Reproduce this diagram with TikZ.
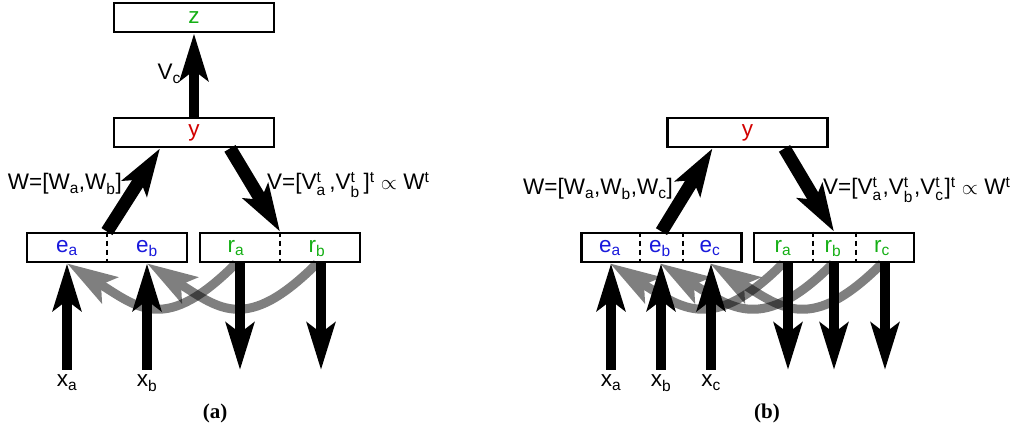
\documentclass[tikz,border=0pt]{standalone}
\usepackage{amsmath}
\usepackage{fontspec}
\setmainfont{Liberation Sans}
\newfontfamily\capfont{Liberation Serif}
\usetikzlibrary{arrows.meta}
\DeclareMathSizes{22.5}{22.5}{15.5}{11}

\definecolor{eblue}{RGB}{25,25,220}
\definecolor{rgreen}{RGB}{20,175,20}
\definecolor{yred}{RGB}{210,0,0}

\begin{document}
\begin{tikzpicture}[x=1pt,y=1pt,
  box/.style={draw, line width=2.8pt, minimum width=160pt, minimum height=29pt,
              inner sep=0pt, fill=white, font=\fontsize{22.5}{26}\selectfont},
  lbl/.style={font=\fontsize{22.5}{26}\selectfont, inner sep=0pt},
  cell/.style={lbl, anchor=base},
  inlbl/.style={lbl, anchor=base, inner ysep=5pt},
  divider/.style={line width=2.6pt, dash pattern=on 5pt off 4pt},
  flow/.style={line width=10.5pt, -{Stealth[length=47pt,width=28pt,inset=10pt]}},
  wflow/.style={line width=13pt, -{Stealth[length=47pt,width=29pt,inset=10pt]}},
  back/.style={line width=9pt, -{Stealth[length=50pt,width=30pt,inset=10pt]}},
  faded/.style={transparency group, opacity=0.5},
  caption/.style={font=\capfont\bfseries\fontsize{21}{24}\selectfont, inner sep=0pt},
]
\useasboundingbox (0,0) rectangle (1020,430);

% ---------------- panel (a) ----------------
\node[box, text=rgreen] (Z1) at (194,412.5) {z};
\node[box, text=yred]   (Y1) at (194,297.5) {y};
\node[box] (E1) at (107,182.5) {};
\node[box] (R1) at (280,182.5) {};
\draw[divider] (E1.north) -- (E1.south);
\draw[divider] (R1.north) -- (R1.south);

\node[cell, text=eblue]  (ea1) at (67,177.5)  {e$_\text{a}$};
\node[cell, text=eblue]  (eb1) at (147,177.5) {e$_\text{b}$};
\node[cell, text=rgreen] (ra1) at (236,177.5) {r$_\text{a}$};
\node[cell, text=rgreen] (rb1) at (317,177.5) {r$_\text{b}$};

\node[inlbl] (xa1) at (67,43)  {x$_\text{a}$};
\node[inlbl] (xb1) at (147,43) {x$_\text{b}$};
\coordinate (oa1) at (240,60);
\coordinate (ob1) at (321,60);

\node[lbl, anchor=base east] (vc1) at (181,350) {V$_\text{c}$};
\node[lbl, anchor=base east] (w1) at (122,240) {W=[W$_\text{a}$,W$_\text{b}$]};
\node[lbl, anchor=base west] (v1) at (267,240)
  {V=[V$^\text{t}_\text{a}$\,,V$^\text{t}_\text{b}$\,]$^\text{t}$ $\propto$ W$^\text{t}$};

% feedback from the reconstructions to the codes
\begin{scope}[faded]
  \draw[back] (ra1 |- R1.south) .. controls +(-135:100) and +(-32:85) .. (ea1 |- E1.south);
\end{scope}
\begin{scope}[faded]
  \draw[back] (rb1 |- R1.south) .. controls +(-135:100) and +(-32:85) .. (eb1 |- E1.south);
\end{scope}

\draw[flow] (Y1.north) -- (Z1.south);
\draw[wflow] (E1.north) -- ([xshift=-34pt]Y1.south);
\draw[wflow] ([xshift=36pt]Y1.south) -- (R1.north);
\draw[flow] (xa1.north) -- (xa1.north |- E1.south);
\draw[flow] (xb1.north) -- (xb1.north |- E1.south);
\draw[flow] (oa1 |- R1.south) -- (oa1);
\draw[flow] (ob1 |- R1.south) -- (ob1);

\node[caption] (cap1) at (215,17) {(a)};

% ---------------- panel (b) ----------------
\node[box, text=yred] (Y2) at (747.5,297.5) {y};
\node[box] (E2) at (661.5,182.5) {};
\node[box] (R2) at (834,182.5) {};
\draw[divider] ([xshift=-21.5pt]E2.north) -- ([xshift=-21.5pt]E2.south);
\draw[divider] ([xshift=21.5pt]E2.north) -- ([xshift=21.5pt]E2.south);
\draw[divider] ([xshift=-21pt]R2.north) -- ([xshift=-21pt]R2.south);
\draw[divider] ([xshift=22pt]R2.north) -- ([xshift=22pt]R2.south);

\node[cell, text=eblue]  (ea2) at (610,177.5) {e$_\text{a}$};
\node[cell, text=eblue]  (eb2) at (660,177.5) {e$_\text{b}$};
\node[cell, text=eblue]  (ec2) at (710,177.5) {e$_\text{c}$};
\node[cell, text=rgreen] (ra2) at (783,177.5) {r$_\text{a}$};
\node[cell, text=rgreen] (rb2) at (833,177.5) {r$_\text{b}$};
\node[cell, text=rgreen] (rc2) at (882,177.5) {r$_\text{c}$};

\node[inlbl] (xa2) at (611,43) {x$_\text{a}$};
\node[inlbl] (xb2) at (661,43) {x$_\text{b}$};
\node[inlbl] (xc2) at (711,43) {x$_\text{c}$};
\coordinate (oa2) at (788,60);
\coordinate (ob2) at (834,60);
\coordinate (oc2) at (885,60);

\node[lbl, anchor=base east] (w2) at (673,235) {W=[W$_\text{a}$,W$_\text{b}$,W$_\text{c}$]};
\node[lbl, anchor=base west] (v2) at (823,235)
  {V=[V$^\text{t}_\text{a}$\kern1pt,V$^\text{t}_\text{b}$\kern1pt,V$^\text{t}_\text{c}$\kern1pt]$^\text{t}$ $\propto$ W$^\text{t}$};

\begin{scope}[faded]
  \draw[back] (ra2 |- R2.south) .. controls +(-135:100) and +(-32:85) .. (ea2 |- E2.south);
\end{scope}
\begin{scope}[faded]
  \draw[back] (rb2 |- R2.south) .. controls +(-135:100) and +(-32:85) .. (eb2 |- E2.south);
\end{scope}
\begin{scope}[faded]
  \draw[back] (rc2 |- R2.south) .. controls +(-135:100) and +(-32:85) .. (ec2 |- E2.south);
\end{scope}

\draw[wflow] (E2.north) -- ([xshift=-35pt]Y2.south);
\draw[wflow] ([xshift=37pt]Y2.south) -- (R2.north);
\draw[flow] (xa2.north) -- (xa2.north |- E2.south);
\draw[flow] (xb2.north) -- (xb2.north |- E2.south);
\draw[flow] (xc2.north) -- (xc2.north |- E2.south);
\draw[flow] (oa2 |- R2.south) -- (oa2);
\draw[flow] (ob2 |- R2.south) -- (ob2);
\draw[flow] (oc2 |- R2.south) -- (oc2);

\node[caption] (cap2) at (767,17) {(b)};
\end{tikzpicture}
\end{document}
